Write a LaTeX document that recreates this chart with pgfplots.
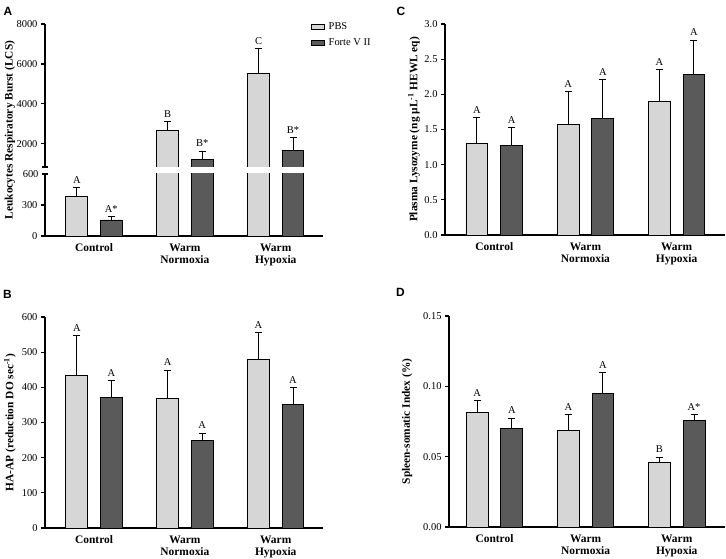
\documentclass[border=0pt]{standalone}
\usepackage{pgfplots}
\pgfplotsset{compat=1.18}
\usepackage{fontspec}
\setmainfont{Liberation Serif}
\newfontfamily\panelfont{Liberation Sans}
\definecolor{lightg}{RGB}{214,214,214}
\definecolor{darkg}{RGB}{90,90,90}
\pgfplotsset{
  base/.style={scale only axis, axis x line*=bottom, axis y line*=left,
    axis line style={line width=1.3bp, -}, tick align=outside, ytick pos=left,
    major tick length=4bp, tick style={line width=1.2bp, black}, xtick style={draw=none},
    xtick={0,1,2}, xticklabels={Control, Warm\\Normoxia, Warm\\Hypoxia},
    xticklabel style={font=\bfseries\fontsize{11.5}{12.5}\selectfont, align=center},
    yticklabel style={font=\fontsize{10.5}{11}\selectfont},
    ylabel style={font=\bfseries\fontsize{11.4}{12}\selectfont, anchor=center},
    /pgf/number format/assume math mode=true, /pgf/number format/1000 sep={}, clip=true},
  errs/.style={error bars/y dir=plus, error bars/y explicit,
    error bars/error bar style={line width=1bp, black},
    error bars/error mark options={rotate=90, mark size=3.5bp, line width=1bp, black}},
  pbs/.style={ybar, bar width=0.24, bar shift=0, draw=black, fill=lightg, line width=0.9bp, errs},
  forte/.style={ybar, bar width=0.24, bar shift=0, draw=black, fill=darkg, line width=0.9bp, errs},
  lab/.style={draw=none, mark=none, nodes near coords, point meta=explicit symbolic,
    nodes near coords style={anchor=south, font=\fontsize{10.5}{10.5}\selectfont, inner sep=1bp, yshift=3bp, text=black}, forget plot}
}
\begin{document}
\begin{tikzpicture}
\path[use as bounding box] (0,0) rectangle (726bp,559bp);
% ---------- Panel A upper ----------
\begin{axis}[base, at={(45bp,392bp)}, anchor=south west, width=278bp, height=143bp,
  xmin=-0.54, xmax=2.52, ymin=840, ymax=8000, axis x line=none,
  ytick={2000,4000,6000,8000}, extra y ticks={840}, extra y tick labels={},
  extra tick style={tick align=center, major tick length=6bp},
  ylabel={Leukocytes Respiratory Burst (LCS)},
  ylabel style={at={(axis description cs:-0.126,0.259)}},
  legend style={at={(axis description cs:0.945,1.04)}, anchor=north west, draw=none, fill=none,
    font=\fontsize{10.5}{10.5}\selectfont, row sep=4bp, legend cell align=left,
    nodes={inner xsep=4bp}}]
\addlegendimage{legend image code/.code={\draw[draw=black, fill=lightg, line width=0.8bp] (0bp,-2.5bp) rectangle (13bp,2.5bp);}}
\addlegendentry{PBS}
\addlegendimage{legend image code/.code={\draw[draw=black, fill=darkg, line width=0.8bp] (0bp,-2.5bp) rectangle (13bp,2.5bp);}}
\addlegendentry{Forte V II}
\addplot[pbs, forget plot] coordinates {(0.81,2690) +- (0,420) (1.81,5510) +- (0,1250)};
\addplot[forte, forget plot] coordinates {(1.19,1240) +- (0,390) (2.19,1660) +- (0,640)};
\addplot[lab] coordinates {(0.81,3110)[B] (1.81,6760)[C] (1.19,1630)[B*] (2.19,2300)[B*]};
\end{axis}
% ---------- Panel A lower ----------
\begin{axis}[base, at={(45bp,323bp)}, anchor=south west, width=278bp, height=62bp,
  xmin=-0.54, xmax=2.52, ymin=0, ymax=600,
  ytick={0,300}, extra y ticks={600}, extra tick style={tick align=center, major tick length=6bp}]
\addplot[pbs] coordinates {(-0.19,380) +- (0,85) (0.81,2690) +- (0,420) (1.81,5510) +- (0,1250)};
\addplot[forte] coordinates {(0.19,155) +- (0,29) (1.19,1240) +- (0,390) (2.19,1660) +- (0,640)};
\addplot[lab] coordinates {(-0.19,465)[A] (0.19,184)[A*]};
\end{axis}
% ---------- Panel B ----------
\begin{axis}[base, at={(45bp,31bp)}, anchor=south west, width=278bp, height=211bp,
  xmin=-0.54, xmax=2.52, ymin=0, ymax=600, ytick={0,100,...,600},
  ylabel={HA-AP (reduction DO sec\textsuperscript{-1})},
  ylabel style={at={(axis description cs:-0.126,0.5)}}]
\addplot[pbs] coordinates {(-0.19,435) +- (0,113) (0.81,368) +- (0,81) (1.81,480) +- (0,75)};
\addplot[forte] coordinates {(0.19,370) +- (0,50) (1.19,250) +- (0,20) (2.19,351) +- (0,49)};
\addplot[lab] coordinates {(-0.19,548)[A] (0.81,449)[A] (1.81,555)[A] (0.19,420)[A] (1.19,270)[A] (2.19,400)[A]};
\end{axis}
% ---------- Panel C ----------
\begin{axis}[base, at={(445bp,324bp)}, anchor=south west, width=280bp, height=211bp,
  xmin=-0.54, xmax=2.53, ymin=0, ymax=3, ytick={0,0.5,...,3},
  yticklabel style={/pgf/number format/.cd, fixed, fixed zerofill, precision=1},
  ylabel={Plasma Lysozyme (ng µL\textsuperscript{-1} HEWL eq)},
  ylabel style={at={(axis description cs:-0.111,0.5)}}]
\addplot[pbs] coordinates {(-0.19,1.30) +- (0,0.37) (0.81,1.57) +- (0,0.47) (1.81,1.90) +- (0,0.45)};
\addplot[forte] coordinates {(0.19,1.27) +- (0,0.26) (1.19,1.65) +- (0,0.56) (2.19,2.28) +- (0,0.49)};
\addplot[lab] coordinates {(-0.19,1.67)[A] (0.81,2.04)[A] (1.81,2.35)[A] (0.19,1.53)[A] (1.19,2.21)[A] (2.19,2.77)[A]};
\end{axis}
% ---------- Panel D ----------
\begin{axis}[base, at={(449bp,32bp)}, anchor=south west, width=276bp, height=211bp,
  xmin=-0.50, xmax=2.53, ymin=0, ymax=0.15, ytick={0,0.05,0.10,0.15},
  yticklabel style={/pgf/number format/.cd, fixed, fixed zerofill, precision=2},
  ylabel={Spleen-somatic Index (\%)},
  ylabel style={at={(axis description cs:-0.152,0.5)}}]
\addplot[pbs] coordinates {(-0.19,0.0816) +- (0,0.0084) (0.81,0.0684) +- (0,0.0116) (1.81,0.0456) +- (0,0.0040)};
\addplot[forte] coordinates {(0.19,0.0698) +- (0,0.0076) (1.19,0.0947) +- (0,0.0153) (2.19,0.0755) +- (0,0.0045)};
\addplot[lab] coordinates {(-0.19,0.090)[A] (0.81,0.080)[A] (1.81,0.0496)[B] (0.19,0.0774)[A] (1.19,0.110)[A] (2.19,0.080)[A*]};
\end{axis}
% panel letters
\node[font=\panelfont\bfseries\fontsize{12}{12}\selectfont] at (8bp,548bp) {A};
\node[font=\panelfont\bfseries\fontsize{12}{12}\selectfont] at (7.5bp,265bp) {B};
\node[font=\panelfont\bfseries\fontsize{12}{12}\selectfont] at (401bp,548bp) {C};
\node[font=\panelfont\bfseries\fontsize{12}{12}\selectfont] at (400.5bp,266.5bp) {D};
\end{tikzpicture}
\end{document}
